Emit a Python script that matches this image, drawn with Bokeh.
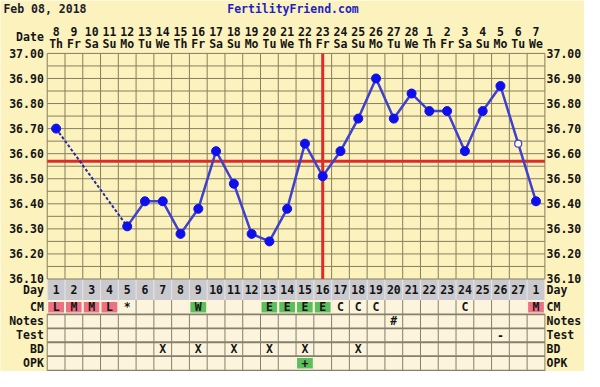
import numpy as np
from bokeh.plotting import figure
from bokeh.models import Range1d
from bokeh.embed import file_html
from bokeh.resources import INLINE
from bokeh.core.properties import value

# ---------------- data ----------------
chart_date = "Feb 08, 2018"
site_name = "FertilityFriend.com"
dates = [8, 9, 10, 11, 12, 13, 14, 15, 16, 17, 18, 19, 20, 21, 22, 23, 24, 25, 26, 27, 28,
         1, 2, 3, 4, 5, 6, 7]
weekdays = ["Th", "Fr", "Sa", "Su", "Mo", "Tu", "We"] * 4
cycle_days = [1, 2, 3, 4, 5, 6, 7, 8, 9, 10, 11, 12, 13, 14, 15, 16, 17, 18, 19, 20,
              21, 22, 23, 24, 25, 26, 27, 1]
temps = [36.70, None, None, None, 36.31, 36.41, 36.41, 36.28, 36.38, 36.61, 36.48, 36.28,
         36.25, 36.38, 36.64, 36.51, 36.61, 36.74, 36.90, 36.74, 36.84, 36.77, 36.77, 36.61,
         36.77, 36.87, 36.64, 36.41]
open_temp_cols = [27]
coverline = 36.57
ovulation_col = 16
temp_ticks = [36.10, 36.20, 36.30, 36.40, 36.50, 36.60, 36.70, 36.80, 36.90, 37.00]
temp_labels = ["36.10", "36.20", "36.30", "36.40", "36.50", "36.60", "36.70", "36.80",
               "36.90", "37.00"]
header_label = "Date"
row_names = ["Day", "CM", "Notes", "Test", "BD", "OPK"]
cm = ["L", "M", "M", "L", "*", "", "", "", "W", "", "", "", "E", "E", "E", "E", "C", "C",
      "C", "", "", "", "", "C", "", "", "", "M"]
notes_cols = [20]
notes_text = ["#"]
test_cols = [26]
test_text = ["-"]
bd_cols = [7, 9, 11, 13, 15, 18]
opk_cols = [15]
opk_text = ["+"]

# ---------------- layout / style ----------------
REF_W, REF_H = 600, 387
W, H = 584, 371
GRID_L, GRID_R = 48.0, 559.3          # reference x of the grid's left / right edges
TOP_T, BOT_T = 55.2, 290.5            # reference y of 37.00 and 36.10
PPD = (BOT_T - TOP_T) / (temp_ticks[-1] - temp_ticks[0])

def T(py):
    return temp_ticks[-1] - (py - TOP_T) / PPD

row_edges = [290.5, 312.5, 327.5, 342.0, 356.5, 371.0, 386.0]
row_centers = [(a + b) / 2 for a, b in zip(row_edges[:-1], row_edges[1:])]
DATE_Y, DOW_Y, HEAD_Y, TITLE_Y = 32.3, 45.0, 38.5, 8.5
LEFT_LBL_X, RIGHT_LBL_X = 44.5, 561.0

BG = "#FBF2BE"
GRID = "#877f5e"
TLINE = "#86806b"
CREAM = "#FCF4DC"
GRAY = "#C9C9CE"
PINK = "#EA7282"
GREEN = "#5DBE5D"
RED = "#E02A2A"
BLUE = "#0F0FEE"
LBLUE = "#4040CC"
DBLUE = "#2A2AA0"
TXT = "#141414"
FONT = "DejaVu Sans Mono"
FS = "11.5px"

ncol = len(temps)
cols = list(range(1, ncol + 1))
bounds = [c - 0.5 for c in cols] + [ncol + 0.5]
CW = (GRID_R - GRID_L) / ncol

p = figure(width=W, height=H,
           x_range=Range1d(0.5 - GRID_L / CW, ncol + 0.5 + (REF_W - GRID_R) / CW),
           y_range=Range1d(T(REF_H), T(0)),
           x_axis_type=None, y_axis_type=None,
           toolbar_location=None, output_backend="svg", min_border=0,
           background_fill_color=BG, border_fill_color=BG, outline_line_color=None)
p.title.visible = False
p.xgrid.visible = False
p.ygrid.visible = False
p.extra_x_ranges = {"px": Range1d(0, REF_W)}
p.extra_y_ranges = {"px": Range1d(REF_H, 0)}

txt_kw = dict(text_font=value(FONT), text_font_style="bold", text_font_size=FS,
              text_color=TXT, text_baseline="middle")

# ---- title row ----
p.text(x=[3], y=[TITLE_Y], text=[chart_date], x_range_name="px", y_range_name="px",
       text_align="left", **dict(txt_kw, text_color="#1c1c2c"))
p.text(x=[300.5], y=[TITLE_Y], text=[site_name], x_range_name="px", y_range_name="px",
       text_align="center", **dict(txt_kw, text_color="#1f1fc4"))

# ---- header ----
p.text(x=cols, y=[DATE_Y] * ncol, text=[str(d) for d in dates], y_range_name="px",
       text_align="center", **txt_kw)
p.text(x=cols, y=[DOW_Y] * ncol, text=weekdays, y_range_name="px", text_align="center", **txt_kw)

# ---- table ----
p.quad(left=0.5, right=ncol + 0.5, top=row_edges[0], bottom=row_edges[1], fill_color=GRAY,
       line_color=None, y_range_name="px")
p.quad(left=0.5, right=ncol + 0.5, top=row_edges[1], bottom=row_edges[-1] + 5, fill_color=CREAM,
       line_color=None, y_range_name="px")
p.segment(x0=bounds, y0=[row_edges[0]] * len(bounds), x1=bounds, y1=[row_edges[1]] * len(bounds),
          line_color="#E6E6EA", line_width=1, y_range_name="px")
p.segment(x0=bounds, y0=[row_edges[1]] * len(bounds), x1=bounds, y1=[row_edges[-1] + 5] * len(bounds),
          line_color=TLINE, line_width=1, y_range_name="px")
cm_cols = [c for c, s in zip(cols, cm) if s in ("L", "M", "W", "E")]
cm_fill = [PINK if s in ("L", "M") else GREEN for s in cm if s in ("L", "M", "W", "E")]
p.rect(x=cm_cols, y=[row_centers[1]] * len(cm_cols), width=1, height=13, fill_color=cm_fill,
       line_color=CREAM, line_width=2, y_range_name="px")
p.rect(x=opk_cols, y=[row_centers[5]] * len(opk_cols), width=1, height=13, fill_color=GREEN,
       line_color=CREAM, line_width=2, y_range_name="px")
hl = row_edges[2:]
p.segment(x0=[0.5] * len(hl), y0=hl, x1=[ncol + 0.5] * len(hl), y1=hl, line_color=TLINE,
          line_width=1.8, y_range_name="px")
cell_kw = dict(y_range_name="px", text_align="center", **txt_kw)
p.text(x=cols, y=[row_centers[0]] * ncol, text=[str(d) for d in cycle_days], **cell_kw)
p.text(x=cols, y=[row_centers[1]] * ncol, text=cm, **cell_kw)
p.text(x=notes_cols, y=[row_centers[2]] * len(notes_cols), text=notes_text, **cell_kw)
p.text(x=test_cols, y=[row_centers[3]] * len(test_cols), text=test_text, **cell_kw)
p.text(x=bd_cols, y=[row_centers[4]] * len(bd_cols), text=["X"] * len(bd_cols), **cell_kw)
p.text(x=opk_cols, y=[row_centers[5]] * len(opk_cols), text=opk_text, **cell_kw)

# ---- chart grid ----
levels = list(np.round(np.arange(temp_ticks[0], temp_ticks[-1] + 0.001, 0.05), 2))
p.segment(x0=[0.5] * len(levels), y0=levels, x1=[ncol + 0.5] * len(levels), y1=levels,
          line_color=GRID, line_width=1)
p.segment(x0=bounds, y0=[temp_ticks[0]] * len(bounds), x1=bounds, y1=[temp_ticks[-1]] * len(bounds),
          line_color=GRID, line_width=1)

# ---- coverline & ovulation ----
p.segment(x0=[0.5], y0=[coverline], x1=[ncol + 0.5], y1=[coverline], line_color=RED, line_width=3)
p.segment(x0=[ovulation_col], y0=[temp_ticks[0]], x1=[ovulation_col], y1=[temp_ticks[-1]],
          line_color=RED, line_width=3)

# ---- temperature line ----
valid = [i for i, v in enumerate(temps) if v is not None]
solid_xs, solid_ys, dash_xs, dash_ys = [], [], [], []
run_x, run_y = [cols[valid[0]]], [temps[valid[0]]]
for a, b in zip(valid[:-1], valid[1:]):
    if b == a + 1:
        run_x.append(cols[b]); run_y.append(temps[b])
    else:
        if len(run_x) > 1:
            solid_xs.append(run_x); solid_ys.append(run_y)
        dash_xs.append([cols[a], cols[b]]); dash_ys.append([temps[a], temps[b]])
        run_x, run_y = [cols[b]], [temps[b]]
if len(run_x) > 1:
    solid_xs.append(run_x); solid_ys.append(run_y)
p.multi_line(dash_xs, dash_ys, line_color=DBLUE, line_width=2, line_dash="3 2")
p.multi_line(solid_xs, solid_ys, line_color=LBLUE, line_width=2.5)
fx = [cols[i] for i in valid if cols[i] not in open_temp_cols]
fy = [temps[i] for i in valid if cols[i] not in open_temp_cols]
p.scatter(x=fx, y=fy, size=9, fill_color=BLUE, line_color=BLUE)
ox = list(open_temp_cols)
oy = [temps[c - 1] for c in open_temp_cols]
p.scatter(x=ox, y=oy, size=7, fill_color="#FFFDF0", line_color=LBLUE, line_width=1.2)

# ---- side labels (temperature scale and row names) ----
left_y = [T(HEAD_Y)] + temp_ticks + [T(r) for r in row_centers]
left_t = [header_label] + temp_labels + row_names
right_y = temp_ticks + [T(r) for r in row_centers]
right_t = temp_labels + row_names
p.text(x=[LEFT_LBL_X] * len(left_y), y=left_y, text=left_t, x_range_name="px",
       text_align="right", **txt_kw)
p.text(x=[RIGHT_LBL_X] * len(right_y), y=right_y, text=right_t, x_range_name="px",
       text_align="left", **txt_kw)

open("out.html", "w").write(file_html(p, INLINE))
